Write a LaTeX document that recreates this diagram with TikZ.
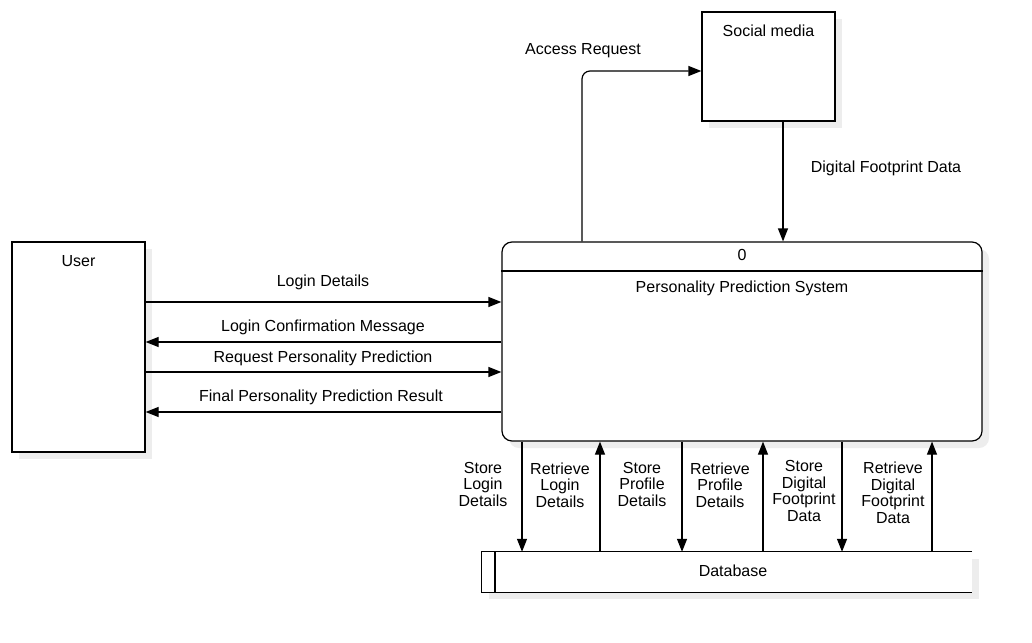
\documentclass[tikz,border=0pt]{standalone}
\usepackage{fontspec}
\setmainfont{Liberation Sans}
\usetikzlibrary{arrows.meta,shadows}

\tikzset{
  entity/.style={draw, line width=1.2pt, fill=white,
    drop shadow={shadow xshift=7pt, shadow yshift=-7pt, fill=black!7, opacity=1}},
  flow/.style={line width=1.2pt, -{Triangle[length=13pt,width=10pt]}},
  lbl/.style={align=center, inner sep=0pt},
}

\begin{document}
\begin{tikzpicture}[x=1pt, y=-1pt, font=\fontsize{16}{16.5}\selectfont]
			\useasboundingbox[fill=white] (0,0) rectangle (1032,642);
			
			%external entities
			\node[entity, minimum width=133, minimum height=210] (user) at (78.5,347) {};
			\node[lbl] (userlbl) at (78.5,261) {User};
			\node[entity, minimum width=133, minimum height=109] (social) at (768.5,66.5) {};
			\node[lbl] (sociallbl) at (768.5,31) {Social media};
			
			%process
			\node[entity, rounded corners=10, minimum width=480, minimum height=199] (proc) at (742,341.5) {};
			\draw[line width=1.2pt] (proc.west |- 0,271) -- (proc.east |- 0,271);
			\node[lbl] (procid) at (742,255) {0};
			\node[lbl] (proclbl) at (742,288) {Personality Prediction System};
			
			%data store
			\node[minimum width=490, minimum height=40, inner sep=0pt, fill=white,
			  drop shadow={shadow xshift=7pt, shadow yshift=-7pt, fill=black!7, opacity=1}] (db) at (727,572) {};
			\draw[line width=1.2pt] (db.north east) -- (db.north west) -- (db.south west) -- (db.south east);
			\draw[line width=1.2pt] (db.north west -| 495,0) -- (db.south west -| 495,0);
			\node[lbl] (dblbl) at (733,571) {Database};
			
			%user flows
			\draw[flow] (user.east |- 0,302) -- (proc.west |- 0,302);
			\node[lbl] (f1) at (323,282) {Login Details};
			\draw[flow] (proc.west |- 0,342) -- (user.east |- 0,342);
			\node[lbl] (f2) at (323,327) {Login Confirmation Message};
			\draw[flow] (user.east |- 0,372) -- (proc.west |- 0,372);
			\node[lbl] (f3) at (323,358) {Request Personality Prediction};
			\draw[flow] (proc.west |- 0,412) -- (user.east |- 0,412);
			\node[lbl] (f4) at (321,397) {Final Personality Prediction Result};
			
			%social media flows
			\draw[flow, rounded corners=8] (proc.north -| 582,0) |- (social.west |- 0,71);
			\node[lbl] (f5) at (583,51) {Access Request};
			\draw[flow] (social.south -| 783,0) -- (proc.north -| 783,0);
			\node[lbl] (f6) at (886,168) {Digital Footprint Data};
			
			%database flows
			\foreach \x in {522, 682, 842}{
				\draw[flow] (proc.south -| \x,0) -- (db.north -| \x,0);
			}
			\foreach \x in {600, 763, 932}{
				\draw[flow] (db.north -| \x,0) -- (proc.south -| \x,0);
			}
			\node[lbl] (s1) at (483,484) {Store\\Login\\Details};
			\node[lbl] (r1) at (560,485) {Retrieve\\Login\\Details};
			\node[lbl] (s2) at (642,484) {Store\\Profile\\Details};
			\node[lbl] (r2) at (720,485) {Retrieve\\Profile\\Details};
			\node[lbl] (s3) at (804,491) {Store\\Digital\\Footprint\\Data};
			\node[lbl] (r3) at (893,493) {Retrieve\\Digital\\Footprint\\Data};
		\end{tikzpicture}
\end{document}
